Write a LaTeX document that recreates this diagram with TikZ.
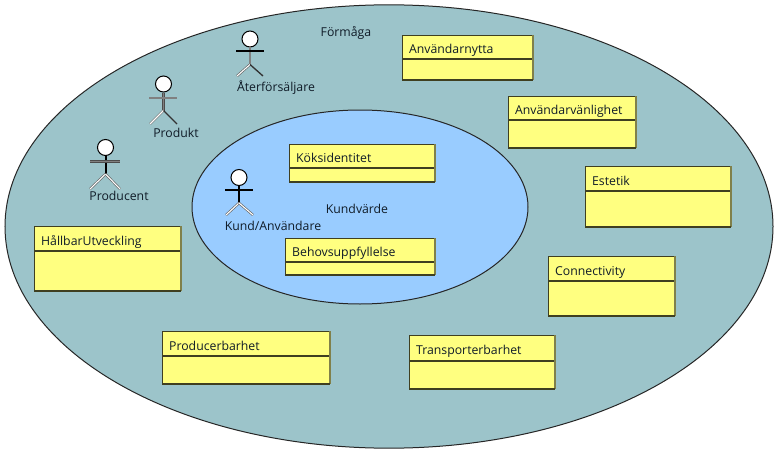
\documentclass[tikz,border=0pt]{standalone}
\usepackage{fontspec}
\setmainfont{Open Sans}
\usetikzlibrary{shapes.geometric}
\tikzset{%
    formaga/.style={ellipse,draw=black!85,line width=0.75pt,fill=tealgray,inner sep=0pt},
    kundvarde/.style={ellipse,draw=black!85,line width=0.75pt,fill=skyblue,inner sep=0pt},
    rubrik/.style={rectangle,draw=olivedark,line width=0.75pt,fill=paleyellow,anchor=north west,inner sep=0pt,text width=#1,align=left,text height=10pt,text depth=0pt,font=\fontsize{9.2pt}{10pt}\selectfont,text=textdark},
    kropp/.style={rectangle,draw=olivedark,line width=0.75pt,fill=paleyellow,anchor=north west,inner sep=0pt},
    kant/.style={draw=olivedark,line width=1.3pt},
    skugga/.style={draw=olivegray,line width=1pt},
    etikett/.style={font=\fontsize{9.2pt}{10pt}\selectfont,text=textdark,inner sep=0pt},
    huvud/.style={circle,draw=black,line width=0.75pt,fill=white,minimum size=12pt,inner sep=0pt},
    svart/.style={draw=black,line width=1.5pt},
    grastreck/.style={draw=black!70,double=gray,double distance=1.3pt,line width=0.45pt},
    ljusstreck/.style={draw=black!60,double=white,double distance=0.8pt,line width=0.5pt},
}
\definecolor{tealgray}{HTML}{9CC4CA}
\definecolor{skyblue}{HTML}{99CCFF}
\definecolor{paleyellow}{HTML}{FFFF80}
\definecolor{olivedark}{HTML}{3F3F20}
\definecolor{olivegray}{HTML}{80804A}
\definecolor{textdark}{HTML}{101C28}
\begin{document}
\begin{tikzpicture}[x=0.75pt,y=-0.75pt]
    \useasboundingbox (0,0) rectangle (781,453);
    % ellipses
    \node [formaga,minimum width=576pt,minimum height=332.5pt] (fo) at (389,226.5) {};
    \node [kundvarde,minimum width=252pt,minimum height=145.5pt] (kv) at (360,207) {};
    \node [etikett] (fotxt) at (346,33) {Förmåga};
    \node [etikett] (kvtxt) at (357,208.5) {Kundvärde};
    % yellow boxes
    \node [rubrik={97.5pt},minimum height=17.25pt] (a) at (402,35) {\hspace{5pt}Användarnytta};
    \node [kropp,minimum width=97.5pt,minimum height=15pt] (ab) at (a.south west) {};
    \node [rubrik={95.25pt},minimum height=17.25pt] (b) at (508,96) {\hspace{5pt}Användarvänlighet};
    \node [kropp,minimum width=95.25pt,minimum height=20pt] (bb) at (b.south west) {};
    \node [rubrik={108.75pt},minimum height=18pt] (c) at (585,166) {\hspace{5pt}Estetik};
    \node [kropp,minimum width=108.75pt,minimum height=26pt] (cb) at (c.south west) {};
    \node [rubrik={94.5pt},minimum height=18pt] (d) at (548,256) {\hspace{5pt}Connectivity};
    \node [kropp,minimum width=94.5pt,minimum height=25.5pt] (db) at (d.south west) {};
    \node [rubrik={108.75pt},minimum height=18.75pt] (e) at (409,335) {\hspace{5pt}Transporterbarhet};
    \node [kropp,minimum width=108.75pt,minimum height=20pt] (eb) at (e.south west) {};
    \node [rubrik={125.25pt},minimum height=18pt] (f) at (162,331) {\hspace{5pt}Producerbarhet};
    \node [kropp,minimum width=125.25pt,minimum height=20pt] (fb) at (f.south west) {};
    \node [rubrik={109.5pt},minimum height=18pt] (g) at (34,226) {\hspace{5pt}HållbarUtveckling};
    \node [kropp,minimum width=109.5pt,minimum height=29pt] (gb) at (g.south west) {};
    \node [rubrik={108.75pt},minimum height=17.25pt] (h) at (289,144) {\hspace{5pt}Köksidentitet};
    \node [kropp,minimum width=108.75pt,minimum height=9.5pt] (hb) at (h.south west) {};
    \node [rubrik={111.75pt},minimum height=17.25pt] (i) at (285,238) {\hspace{5pt}Behovsuppfyllelse};
    \node [kropp,minimum width=111.75pt,minimum height=9pt] (ib) at (i.south west) {};
    % box edges
    \foreach \n/\m in {a/ab,b/bb,c/cb,d/db,e/eb,f/fb,g/gb,h/hb,i/ib}{
        \draw [skugga] (\n.north east)--(\m.south east);
        \draw [kant] (\m.south west)--(\m.south east);
    }
    % actors
    \node [huvud] (at) at (250,39) {};
    \draw [grastreck] (at.south)--++(0,17)coordinate(athip);
    \draw [svart] (236,51)--(264,51);
    \draw [ljusstreck] (athip)--(237,76);
    \draw [draw=black!80,line width=1pt] (athip)--(263,76);
    \node [etikett] (attxt) at (276,88) {Återförsäljare};

    \node [huvud] (pr) at (163.5,84) {};
    \draw [grastreck] (pr.south)--++(0,18)coordinate(prhip);
    \draw [grastreck] (149,98)--(177,98);
    \draw [ljusstreck] (prhip)--(150,124);
    \draw [draw=black!80,line width=1pt] (prhip)--(177,124);
    \node [etikett] (prtxt) at (176,133) {Produkt};

    \node [huvud] (pc) at (105.5,147.5) {};
    \draw [svart] (pc.south)--++(0,18)coordinate(pchip);
    \draw [grastreck] (90,161.5)--(120,161.5);
    \draw [ljusstreck] (pchip)--(90,189);
    \draw [ljusstreck] (pchip)--(120,189);
    \node [etikett] (pctxt) at (119,196) {Producent};

    \node [huvud] (ku) at (239,177.5) {};
    \draw [svart] (ku.south)--++(0,17)coordinate(kuhip);
    \draw [svart] (225,190)--(253,190);
    \draw [ljusstreck] (kuhip)--(226,215);
    \draw [ljusstreck] (kuhip)--(253,215);
    \node [etikett] (kutxt) at (273,226) {Kund/Användare};
\end{tikzpicture}
\end{document}
